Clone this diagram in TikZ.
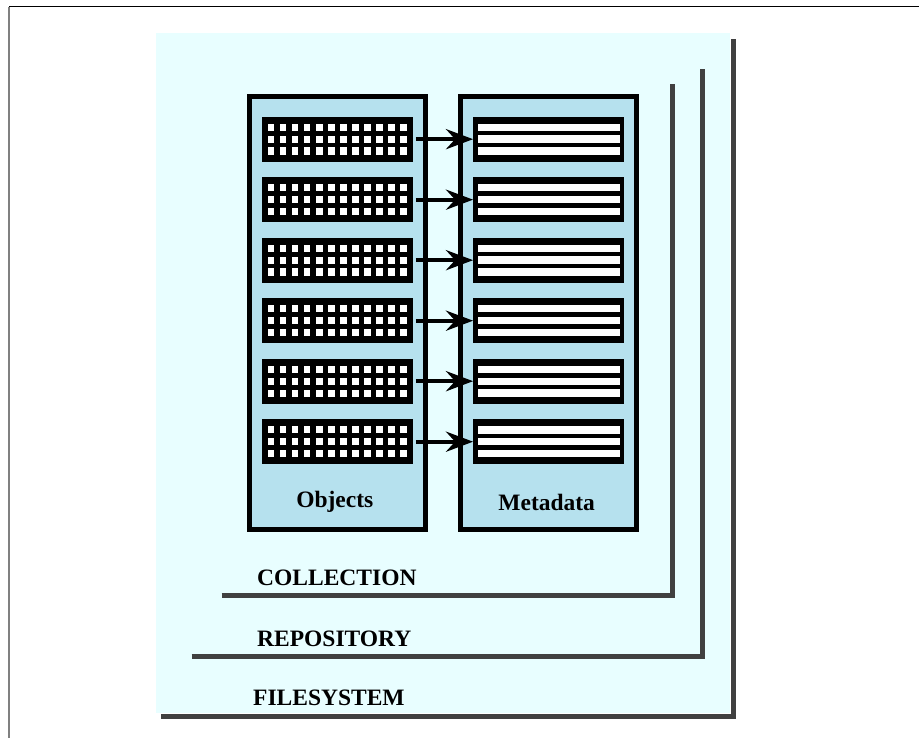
\documentclass[tikz,border=0pt]{standalone}
\usepackage{fontspec}
\setmainfont{Liberation Serif}
\usetikzlibrary{arrows.meta}
\definecolor{fsbg}{HTML}{E8FEFF}
\definecolor{colfill}{HTML}{B6E1EE}
\definecolor{layerline}{HTML}{404040}
\tikzset{
  column/.style={draw=black,line width=5pt,fill=colfill,minimum width=176pt,minimum height=433pt,inner sep=0pt},
  objrow/.style={fill=black,minimum width=151pt,minimum height=45pt,inner sep=0pt,
    path picture={
      \foreach \i in {0,...,11}
        \foreach \j in {-1,0,1}
          \fill[white] ([shift={(-66.3+12.05*\i-3.4,11.9*\j-3.6)}]path picture bounding box.center) rectangle +(6.8,7.2);
    }},
  metarow/.style={fill=black,minimum width=151pt,minimum height=45pt,inner sep=0pt,
    path picture={
      \foreach \j in {-1,0,1}
        \fill[white] ([shift={(-71.2,11.9*\j-3.7)}]path picture bounding box.center) rectangle +(142.4,7.4);
    }},
  layer/.style={draw=layerline,line width=5pt},
  lbl/.style={font=\fontsize{23.5}{28}\selectfont\bfseries,inner sep=0pt},
  link/.style={line width=4.3pt,-{Stealth[length=27pt,width=20pt,inset=9pt]},shorten <=3pt}
}
\begin{document}
\begin{tikzpicture}[x=1pt,y=-1pt]
      \useasboundingbox (0,0) rectangle (919,738);
      \draw[black,line width=1pt] (9,7) -- (919,7);
      \draw[gray,line width=2pt] (9,7) -- (9,738);
      \fill[fsbg] (155.7,33.3) rectangle (730,713);
      \draw[layer] (161,716.5) -- (733,716.5) -- (733,39);
      \draw[layer] (191.7,656.5) -- (702.5,656.5) -- (702.5,69);
      \draw[layer] (221.7,595.5) -- (672.5,595.5) -- (672.5,84);
      \node[column] (objcol) at (337.2,313) {};
      \node[column] (metacol) at (548.7,313) {};
      \node[objrow] (obj1) at (337.2,139.2) {};
      \node[objrow] (obj2) at (337.2,199.7) {};
      \node[objrow] (obj3) at (337.2,260.2) {};
      \node[objrow] (obj4) at (337.2,320.7) {};
      \node[objrow] (obj5) at (337.2,381.2) {};
      \node[objrow] (obj6) at (337.2,441.7) {};
      \node[metarow] (meta1) at (548.8,139.2) {};
      \node[metarow] (meta2) at (548.8,199.7) {};
      \node[metarow] (meta3) at (548.8,260.2) {};
      \node[metarow] (meta4) at (548.8,320.7) {};
      \node[metarow] (meta5) at (548.8,381.2) {};
      \node[metarow] (meta6) at (548.8,441.7) {};
      \begin{scope}[link]
        \draw (obj1) to (meta1);
        \draw (obj2) to (meta2);
        \draw (obj3) to (meta3);
        \draw (obj4) to (meta4);
        \draw (obj5) to (meta5);
        \draw (obj6) to (meta6);
      \end{scope}
      \node[lbl,anchor=base] (objlbl) at (334.8,507.3) {Objects};
      \node[lbl,anchor=base] (metalbl) at (546.7,510) {Metadata};
      \node[lbl,anchor=base west] (colllbl) at (257,585) {COLLECTION};
      \node[lbl,anchor=base west] (repolbl) at (257,646) {REPOSITORY};
      \node[lbl,anchor=base west] (fslbl) at (253,705.7) {FILESYSTEM};
    \end{tikzpicture}
\end{document}
